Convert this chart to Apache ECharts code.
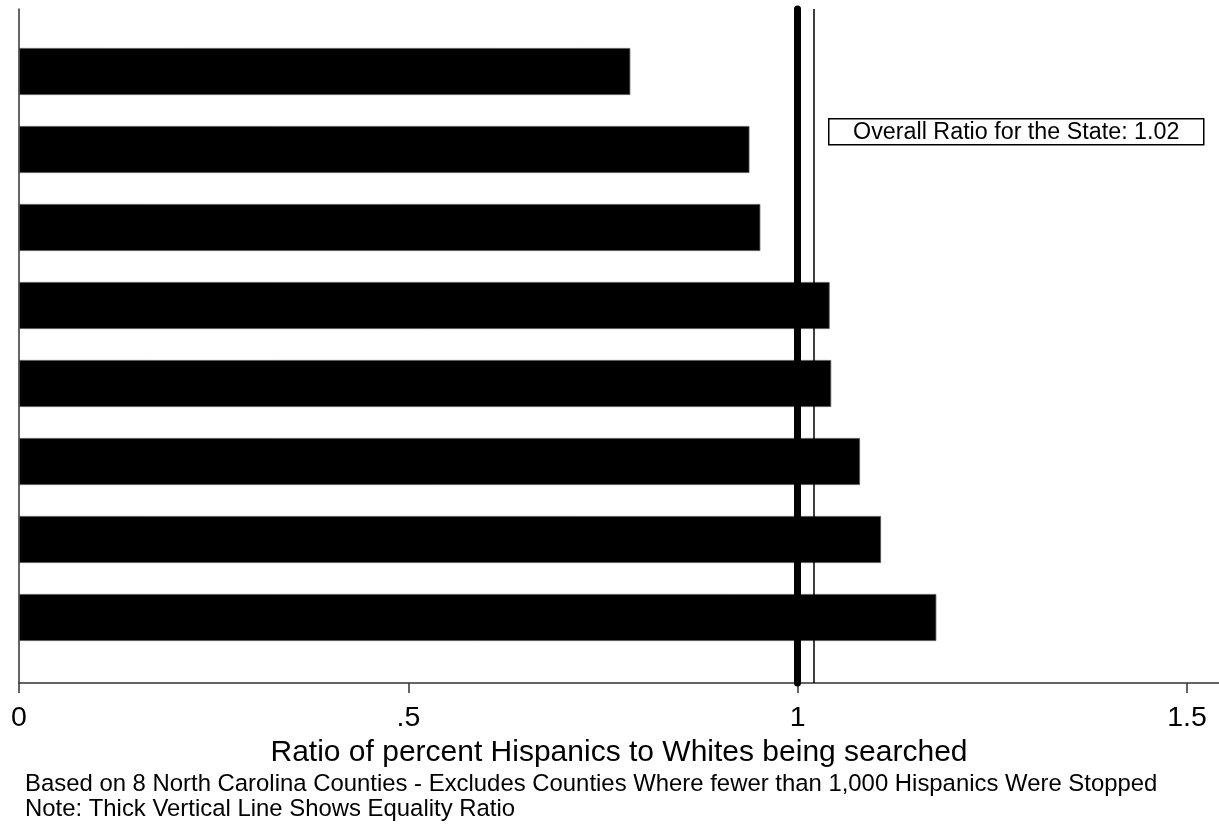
<!DOCTYPE html>
<html>
<head>
<meta charset="utf-8">
<script src="https://cdn.jsdelivr.net/npm/echarts@6/dist/echarts.min.js"></script>
<style>
html,body{margin:0;padding:0;background:#fff;}
#chart{width:1219px;height:827px;}
</style>
</head>
<body>
<div id="chart"></div>
<script>
// ---- data ----
const counties = ['County 1','County 2','County 3','County 4','County 5','County 6','County 7','County 8'];
const ratios = [0.785, 0.938, 0.952, 1.041, 1.043, 1.080, 1.107, 1.178];
const equalityRatio = 1;
const stateRatio = 1.02;
const xMin = 0, xMax = 1.541, xInterval = 0.5;
const axisTitle = 'Ratio of percent Hispanics to Whites being searched';
const annotation = 'Overall Ratio for the State: 1.02';
const notes = [
  'Based on 8 North Carolina Counties - Excludes Counties Where fewer than 1,000 Hispanics Were Stopped',
  'Note: Thick Vertical Line Shows Equality Ratio'
];

const FONT = '"Liberation Sans", Arial, sans-serif';
const chart = echarts.init(document.getElementById('chart'), null, {renderer:'canvas'});

function fmtTick(v){
  const r = Math.round(v / xInterval) * xInterval;
  if (Math.abs(r - v) > 1e-6) return '';
  if (v === 0) return '0';
  return String(+v.toFixed(2)).replace(/^0\./, '.');
}

const option = {
  backgroundColor: '#fff',
  animation: false,
  grid: [
    {left: 19, right: 0, top: 9, bottom: 144, containLabel: false},
    {left: 19, right: 0, top: 32.5, height: 624, containLabel: false}
  ],
  xAxis: [
    {
      type: 'value', gridIndex: 0, min: xMin, max: xMax, interval: xInterval,
      axisLine: {show: true, lineStyle: {color: '#333', width: 1.5}},
      axisTick: {show: true, length: 10, lineStyle: {color: '#333', width: 1.5}},
      axisLabel: {show: true, margin: 21, color: '#000', fontSize: 28.5, fontFamily: FONT, formatter: fmtTick, showMaxLabel: false},
      splitLine: {show: false},
      name: axisTitle, nameLocation: 'middle', nameGap: 45,
      nameTextStyle: {color: '#000', fontSize: 30, fontFamily: FONT}
    },
    {
      type: 'value', gridIndex: 1, min: xMin, max: xMax,
      show: false
    }
  ],
  yAxis: [
    {
      type: 'value', gridIndex: 0, min: 0, max: 1,
      axisLine: {show: true, lineStyle: {color: '#333', width: 1.5}},
      axisTick: {show: false}, axisLabel: {show: false}, splitLine: {show: false}
    },
    {
      type: 'category', gridIndex: 1, data: counties, inverse: true, show: false
    }
  ],
  series: [
    {
      type: 'bar', xAxisIndex: 1, yAxisIndex: 1, data: ratios,
      barWidth: 47,
      itemStyle: {color: '#000', borderColor: '#555', borderWidth: 0.8},
      silent: true
    },
    {
      type: 'line', xAxisIndex: 0, yAxisIndex: 0, data: [], silent: true,
      markLine: {
        silent: true, symbol: 'none', label: {show: false},
        data: [
          {xAxis: equalityRatio, lineStyle: {color: '#000', width: 7, type: 'solid', cap: 'round'}},
          {xAxis: stateRatio, lineStyle: {color: '#000', width: 1.5, type: 'solid'}}
        ]
      }
    }
  ],
  graphic: [
    {
      type: 'group', left: 828, top: 118,
      children: [
        {type: 'rect', shape: {x: 0, y: 0, width: 375, height: 26},
         style: {fill: '#fff', stroke: '#000', lineWidth: 1.5}},
        {type: 'text', x: 187.5, y: 13.5,
         style: {text: annotation, fill: '#000', font: '23.3px ' + FONT, textAlign: 'center', textVerticalAlign: 'middle'}}
      ]
    },
    {
      type: 'text', left: 25, top: 772,
      style: {text: notes[0], fill: '#000', font: '23.9px ' + FONT}
    },
    {
      type: 'text', left: 25, top: 797,
      style: {text: notes[1], fill: '#000', font: '23.9px ' + FONT}
    }
  ]
};
chart.setOption(option);
</script>
</body>
</html>
